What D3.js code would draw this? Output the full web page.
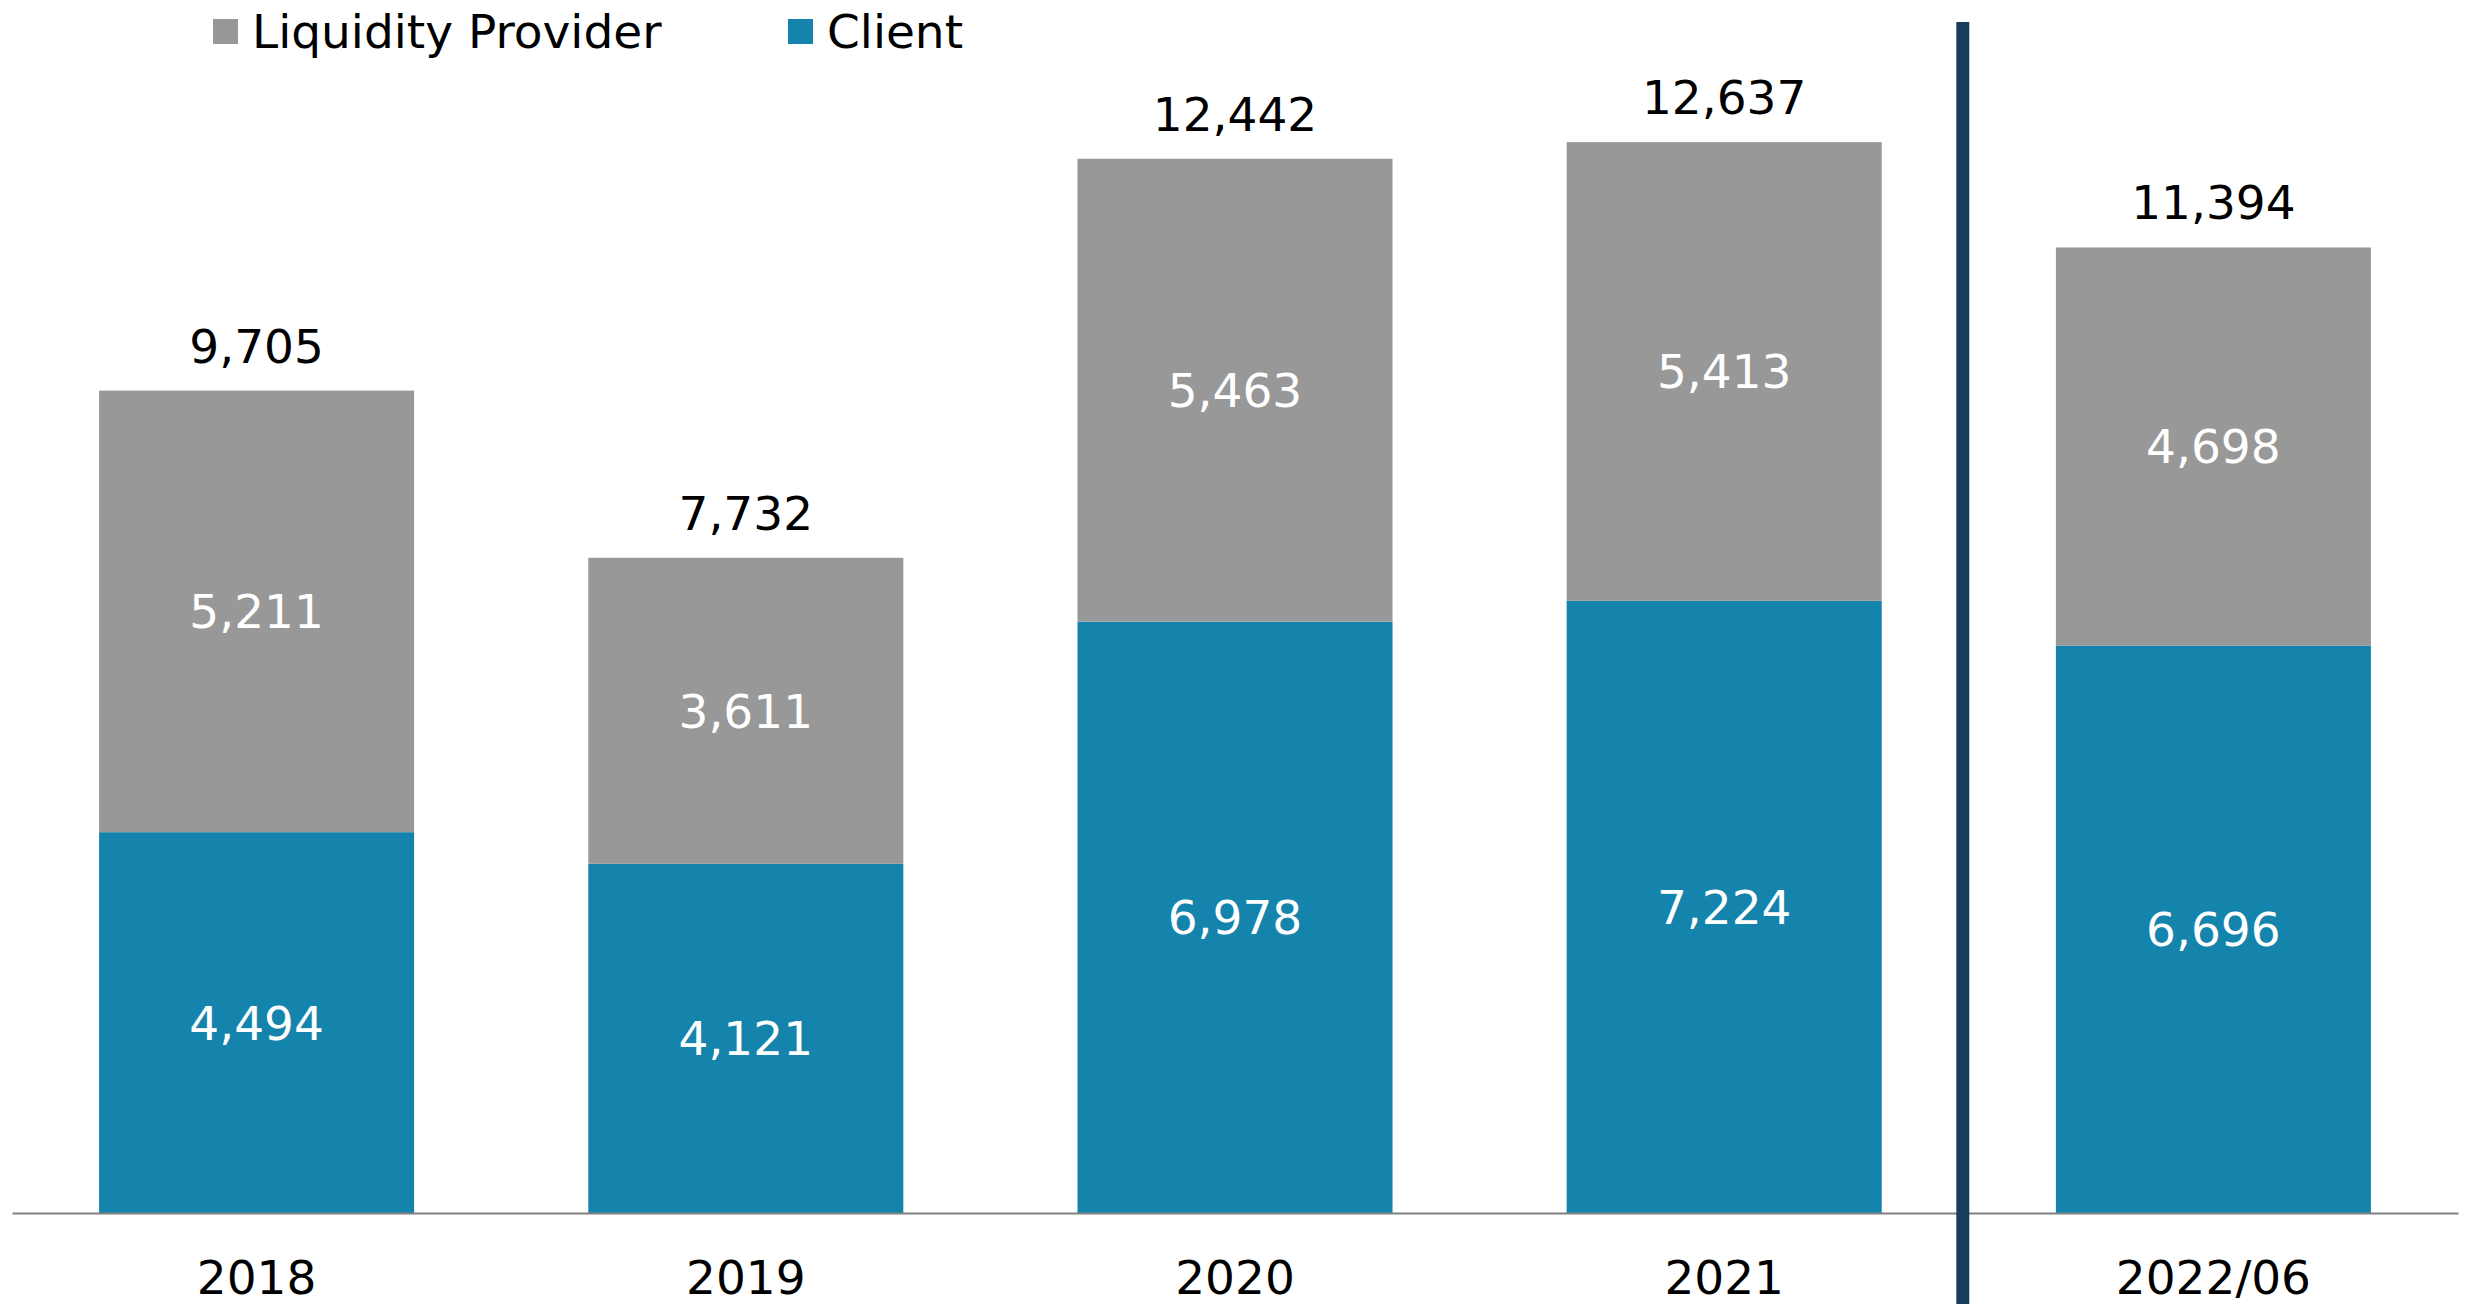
<!DOCTYPE html>
<html>
<head>
<meta charset="utf-8">
<script src="https://cdn.jsdelivr.net/npm/d3@7"></script>
<style>
  body { margin: 0; background: #fff; }
  svg text { font-family: "DejaVu Sans", Verdana, sans-serif; }
</style>
</head>
<body>
<svg id="chart" width="2470" height="1304"></svg>
<script>
// data
var categories = [ "2018", "2019", "2020", "2021", "2022/06" ];
var clientValues = [ 4494, 4121, 6978, 7224, 6696 ];
var providerValues = [ 5211, 3611, 5463, 5413, 4698 ];
var totals = [ 9705, 7732, 12442, 12637, 11394 ];
var seriesNames = [ "Liquidity Provider", "Client" ];

var colors = { provider : "#989898", client : "#1484ac", divider : "#1a3c5c", axis : "#808080" };

var svg = d3.select( "#chart" );
var baseY = 1213;

var x = d3.scaleBand()
          .domain( categories )
          .range( [ 12, 2458 ] )
          .paddingInner( 0.356 )
          .paddingOuter( 0.178 );

var y = d3.scaleLinear()
          .domain( [ 0, 9705 ] )
          .range( [ baseY, 390.6 ] );

var rows = categories.map( function( c, i ) {
  return { cat : c, client : clientValues[i], provider : providerValues[i], total : totals[i] };
} );

var stack = d3.stack().keys( [ "client", "provider" ] )( rows );

var layers = svg.append( "g" ).selectAll( "g" )
  .data( stack ).join( "g" )
  .attr( "fill", function( d ) { return colors[ d.key ]; } );

layers.selectAll( "rect" )
  .data( function( d ) { return d; } ).join( "rect" )
  .attr( "x", function( d ) { return x( d.data.cat ); } )
  .attr( "width", x.bandwidth() )
  .attr( "y", function( d ) { return y( d[1] ); } )
  .attr( "height", function( d ) { return y( d[0] ) - y( d[1] ); } );

var fmt = d3.format( "," );

// segment labels, centred in each segment
stack.forEach( function( layer ) {
  svg.append( "g" ).selectAll( "text" )
    .data( layer ).join( "text" )
    .attr( "x", function( d ) { return x( d.data.cat ) + x.bandwidth() / 2; } )
    .attr( "y", function( d ) { return ( y( d[0] ) + y( d[1] ) ) / 2; } )
    .attr( "dy", "0.36em" )
    .attr( "text-anchor", "middle" )
    .attr( "font-size", 47 )
    .attr( "fill", "#fff" )
    .text( function( d ) { return fmt( d[1] - d[0] ); } );
} );

// totals above bars
svg.append( "g" ).selectAll( "text" )
  .data( rows ).join( "text" )
  .attr( "x", function( d ) { return x( d.cat ) + x.bandwidth() / 2; } )
  .attr( "y", function( d ) { return y( d.total ) - 28; } )
  .attr( "text-anchor", "middle" )
  .attr( "font-size", 47 )
  .attr( "fill", "#000" )
  .text( function( d ) { return fmt( d.total ); } );

// x axis
var xAxis = svg.append( "g" )
  .attr( "transform", "translate(0," + baseY + ")" )
  .call( d3.axisBottom( x ).tickSize( 0 ).tickPadding( 0 ) );

xAxis.select( ".domain" ).attr( "stroke", colors.axis ).attr( "stroke-width", 2 );
xAxis.selectAll( "text" )
  .attr( "font-size", 47 )
  .attr( "fill", "#000" )
  .attr( "dy", 0 )
  .attr( "y", 81 )
  .style( "font-family", "'DejaVu Sans', Verdana, sans-serif" );

// divider between full years and the half year
var divX = ( x( "2021" ) + x.bandwidth() + x( "2022/06" ) ) / 2 - 6;
svg.append( "line" )
  .attr( "x1", divX ).attr( "x2", divX )
  .attr( "y1", 22 ).attr( "y2", 1304 )
  .attr( "stroke", colors.divider )
  .attr( "stroke-width", 13 );

// legend
var legend = svg.append( "g" ).selectAll( "g" )
  .data( [ { name : seriesNames[0], color : colors.provider, x : 213 },
           { name : seriesNames[1], color : colors.client, x : 788 } ] )
  .join( "g" )
  .attr( "transform", function( d ) { return "translate(" + d.x + ",0)"; } );

legend.append( "rect" )
  .attr( "y", 19 ).attr( "width", 25 ).attr( "height", 25 )
  .attr( "fill", function( d ) { return d.color; } );

legend.append( "text" )
  .attr( "x", 39 ).attr( "y", 48 )
  .attr( "font-size", 47 )
  .attr( "fill", "#000" )
  .text( function( d ) { return d.name; } );
</script>
</body>
</html>
